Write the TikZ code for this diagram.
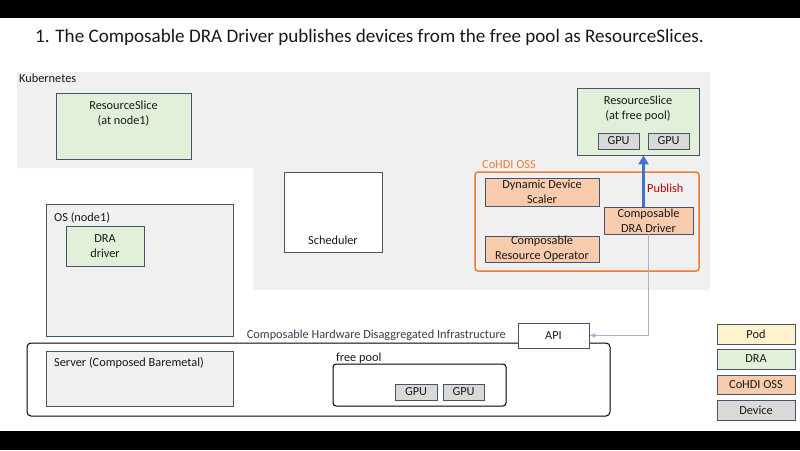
\documentclass[tikz,border=0pt]{standalone}
\usepackage{fontspec}
\setmainfont{Carlito}
\usetikzlibrary{positioning,arrows.meta}

\definecolor{boxline}{HTML}{44546A}
\definecolor{regiongray}{HTML}{F0F0F0}
\definecolor{dragreen}{HTML}{E2F0D9}
\definecolor{ossorange}{HTML}{F8CBAD}
\definecolor{devgray}{HTML}{D9D9D9}
\definecolor{podyellow}{HTML}{FFF2CC}
\definecolor{cohdiline}{HTML}{ED7D31}
\definecolor{publishblue}{HTML}{4472C4}
\definecolor{publishred}{HTML}{C00000}
\definecolor{apilink}{HTML}{A5B3CF}
\definecolor{infratext}{HTML}{333F50}

\begin{document}
\begin{tikzpicture}[x=1pt, y=-1pt,
    every node/.style={font=\fontsize{12.3}{15}\selectfont, text=black!90},
    box/.style={draw=boxline, line width=0.9pt, inner sep=0pt, align=center},
    drabox/.style={box, fill=dragreen},
    ossbox/.style={box, fill=ossorange},
    devbox/.style={box, fill=devgray, minimum width=41pt, minimum height=16pt},
    podbox/.style={box, fill=podyellow},
    plainbox/.style={box, fill=white},
    graybox/.style={box, fill=regiongray},
    legendbox/.style={minimum width=78pt, minimum height=20pt},
    roundbox/.style={draw=black, line width=1pt, rounded corners=4pt, inner sep=0pt},
    txt/.style={inner sep=0pt, align=center}]

    % Page and black bars
    \useasboundingbox (0,0) rectangle (800,450);
    \fill[white] (0,0) rectangle (800,450);
    \fill[black] (0,0) rectangle (800,18);
    \fill[black] (0,431) rectangle (800,450);

    % Title
    \node[txt, anchor=base west, font=\fontsize{19.1}{22}\selectfont] (title) at (35,42)
        {1. The Composable DRA Driver publishes devices from the free pool as ResourceSlices.};

    % Kubernetes area
    \fill[regiongray] (17,72) -- (710,72) -- (710,290) -- (253,290) -- (253,168) -- (17,168) -- cycle;
    \node[txt, anchor=base west] (k8s) at (19,82) {Kubernetes};

    % ResourceSlice at node1
    \node[drabox, minimum width=135pt, minimum height=66pt] (rsnode) at (123.5,126) {};
    \node[txt, below=8pt of rsnode.north] (rsnodetxt) {ResourceSlice\\(at node1)};

    % Scheduler
    \node[plainbox, minimum width=98pt, minimum height=80pt] (sched) at (333,212) {};
    \node[txt, above=8pt of sched.south] (schedtxt) {Scheduler};

    % ResourceSlice at free pool
    \node[drabox, minimum width=122pt, minimum height=67pt] (freers) at (638,121.5) {};
    \node[txt, below=8pt of freers.north] (freerstxt) {ResourceSlice\\(at free pool)};
    \node[devbox] (rsgpua) at (618.5,141) {GPU};
    \node[devbox] (rsgpub) at (668.5,141) {GPU};

    % CoHDI OSS
    \node[draw=cohdiline, line width=1.5pt, rounded corners=3pt, minimum width=224pt, minimum height=99pt] (cohdi) at (587,221.5) {};
    \node[txt, anchor=base west, text=cohdiline] (cohditxt) at (482,168) {CoHDI OSS};
    \node[ossbox, minimum width=114pt, minimum height=28pt] (dds) at (542,192) {Dynamic Device\\Scaler};
    \node[ossbox, minimum width=114pt, minimum height=26pt] (cro) at (542,249) {Composable\\Resource Operator};
    \node[ossbox, minimum width=89pt, minimum height=27pt] (cdd) at (648.5,220.5) {Composable\\DRA Driver};

    % Publish
    \draw[publishblue, line width=3.5pt, -{Triangle[length=9pt, width=10pt]}]
        ([xshift=-5pt]cdd.north) -- ([xshift=-5pt]cdd.north |- freers.south);
    \node[txt, anchor=base west, text=publishred] (publish) at (647,192) {Publish};

    % OS (node1)
    \node[graybox, minimum width=187pt, minimum height=132pt] (os) at (139.5,270) {};
    \node[txt, anchor=base west] (ostxt) at (54,221) {OS (node1)};
    \node[drabox, minimum width=78pt, minimum height=40pt] (dradrv) at (105,246) {DRA\\driver};

    % Composable Hardware Disaggregated Infrastructure
    \node[roundbox, fill=white, minimum width=583pt, minimum height=73pt] (chdi) at (318.5,379.5) {};
    \node[txt, anchor=base east, text=infratext] (chditxt) at (506,338) {Composable Hardware Disaggregated Infrastructure};
    \node[plainbox, minimum width=71pt, minimum height=25pt] (api) at (553.5,335.5) {API};
    \node[graybox, minimum width=187pt, minimum height=55pt] (server) at (139.5,378.5) {};
    \node[txt, anchor=base west] (servertxt) at (54,366) {Server (Composed Baremetal)};
    \node[roundbox, minimum width=173pt, minimum height=42pt, rounded corners=3pt] (pool) at (419.5,385) {};
    \node[txt, anchor=base west] (pooltxt) at (336,361) {free pool};
    \node[devbox, minimum width=42pt] (poolgpua) at (416,392) {GPU};
    \node[devbox] (poolgpub) at (463.5,392) {GPU};

    % Driver to API
    \draw[apilink, line width=0.8pt, -{Latex[length=6pt, width=5pt]}] (cdd.south) |- (api.east);

    % Legend
    \node[podbox, legendbox] (lgpod) at (756,334) {Pod};
    \node[drabox, legendbox] (lgdra) at (756,359) {DRA};
    \node[ossbox, legendbox, minimum height=19pt] (lgoss) at (756,384.5) {CoHDI OSS};
    \node[devbox, legendbox] (lgdev) at (756,410) {Device};
\end{tikzpicture}
\end{document}
